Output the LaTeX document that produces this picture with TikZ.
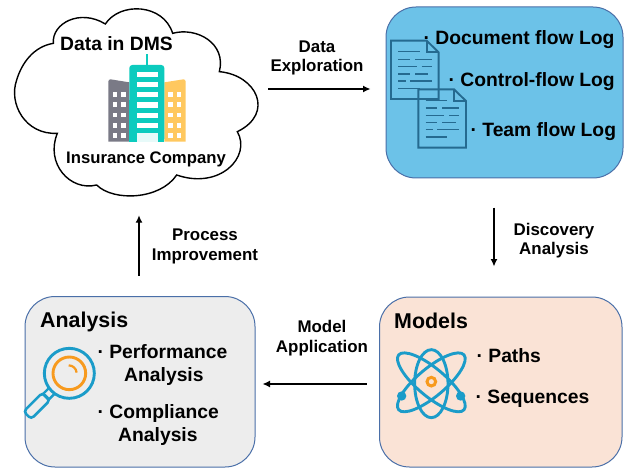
\documentclass[tikz,border=0pt]{standalone}
\usepackage{fontspec}
\setmainfont{Liberation Sans}
\usetikzlibrary{arrows.meta}
\definecolor{bluefill}{HTML}{6CC2E8}
\definecolor{edgeblue}{HTML}{4A6FA8}
\definecolor{peach}{HTML}{FAE3D6}
\definecolor{greyfill}{HTML}{EDEDED}
\definecolor{docline}{HTML}{256A90}
\definecolor{iconblue}{HTML}{1B9CC9}
\definecolor{iconorange}{HTML}{F79A1E}
\definecolor{bteal}{HTML}{0CCBBE}
\definecolor{bgrey}{HTML}{7A7A86}
\definecolor{byellow}{HTML}{FFC85F}
\tikzset{
  panel/.style={draw=edgeblue,line width=1pt,rounded corners=30pt,inner sep=0pt},
  txt/.style={anchor=base west,inner sep=0pt,font=\fontsize{19.3}{19}\selectfont\bfseries},
  ttl/.style={txt,font=\fontsize{21.4}{21}\selectfont\bfseries},
  lab/.style={anchor=base,inner sep=0pt,font=\fontsize{16.9}{17}\selectfont\bfseries},
  flow/.style={draw=black,line width=1.4pt,-{Latex[length=7.5pt,width=7pt]}},
  doc/.style={draw=docline,line width=1.9pt},
  docrule/.style={draw=docline,line width=1.6pt},
  orbit/.style={draw=iconblue,line width=2.9pt},
}
\begin{document}
\begin{tikzpicture}[x=1pt,y=-1pt]
\useasboundingbox (0,0) rectangle (624,468);
% panels
\node[panel,fill=bluefill,minimum width=237pt,minimum height=171pt] (logs) at (504.5,92.5) {};
\node[panel,fill=peach,minimum width=242.5pt,minimum height=170pt] (models) at (500.75,382) {};
\node[panel,fill=greyfill,minimum width=230pt,minimum height=170.5pt] (analysis) at (140,381.75) {};
\node[inner sep=0pt,minimum width=247pt,minimum height=188pt] (cloud) at (136.5,101) {};
% cloud outline
\begin{scope}[scale=1/3]
\draw[black,line width=1.4pt,fill=white] (160,130)
  .. controls (155,70) and (240,25) .. (316,72)
  .. controls (360,5) and (490,10) .. (518,100)
  .. controls (590,80) and (680,130) .. (658,215)
  .. controls (770,225) and (825,340) .. (712,395)
  .. controls (755,470) and (660,570) .. (530,525)
  .. controls (480,600) and (340,605) .. (290,555)
  .. controls (210,575) and (135,490) .. (172,400)
  .. controls (75,405) and (25,310) .. (50,240)
  .. controls (65,190) and (100,140) .. (160,130) -- cycle;
% building
\fill[bgrey] (325,245) .. controls (325,240) and (328,238) .. (332,238) -- (388,247) -- (388,425) -- (325,425) -- cycle;
\fill[byellow] (557,245) .. controls (557,240) and (554,238) .. (550,238) -- (493,247) -- (493,425) -- (557,425) -- cycle;
\draw[bteal,line width=1.2pt] (441,163) -- (441,197);
\fill[bteal,rounded corners=3pt] (388,425) -- (388,195) -- (493,195) -- (493,425) -- cycle;
\fill[bteal] (388,300) rectangle (493,425);
\foreach \y in {215,245,276,307,338,368}{\fill[white] (410,\y) rectangle (473,\y+16);}
\fill[white!90!bteal] (410,400) rectangle (473,425);
\foreach \y in {277,307,338,369,400}{
  \fill[white] (338,\y) rectangle (352,\y+14);
  \fill[white] (363,\y) rectangle (378,\y+14);
  \fill[white] (505,\y) rectangle (518,\y+14);
  \fill[white] (530,\y) rectangle (544,\y+14);
}
\end{scope}
\node[txt] (t1) at (60,51) {Data in DMS};
\node[txt,font=\fontsize{16.7}{17}\selectfont\bfseries] (t2) at (66,164) {Insurance Company};
% documents
\begin{scope}[shift={(380,0)},scale=1/3]
\foreach \dx/\dy in {0/0,82/146}{
\begin{scope}[shift={(\dx,\dy)}]
\draw[doc] (33,122) -- (140,122) -- (176,157) -- (176,297) -- (33,297) -- cycle;
\draw[doc] (140,122) -- (140,157) -- (176,157);
\draw[docrule] (55,155) -- (120,155) (55,178) -- (90,178) (105,178) -- (155,178)
  (55,200) -- (110,200) (125,200) -- (155,200) (55,222) -- (90,222) (105,222) -- (145,222)
  (55,243) -- (78,243) (90,243) -- (155,243) (55,265) -- (120,265);
\end{scope}}
\end{scope}
\node[txt] (l1) at (423.4,44.5) {· Document flow Log};
\node[txt] (l2) at (448.4,87) {· Control-flow Log};
\node[txt] (l3) at (470.4,137) {· Team flow Log};
% atom
\begin{scope}[shift={(370,290)},scale=1/3]
\draw[orbit] (184,281) ellipse [x radius=50,y radius=102];
\draw[orbit,rotate around={50:(184,277)}] (184,277) ellipse [x radius=42,y radius=128];
\draw[orbit,rotate around={-50:(184,277)}] (184,277) ellipse [x radius=42,y radius=128];
\fill[iconblue] (95,318) circle [radius=14];
\fill[iconblue] (272,318) circle [radius=14];
\draw[iconorange,line width=3pt] (184,275) circle [radius=13];
\end{scope}
\node[ttl] (m0) at (394,328) {Models};
\node[txt] (m1) at (476.4,362) {· Paths};
\node[txt] (m2) at (475.4,403) {· Sequences};
% magnifier
\begin{scope}[shift={(10,290)},scale=1/3]
\draw[iconblue,line width=2.4pt,rotate around={-45:(178,250)}]
  (166,322) rectangle (190,350);
\draw[iconblue,line width=2.6pt,rounded corners=3.5pt,rotate around={-45:(178,250)}]
  (162,348) rectangle (194,428);
\draw[iconblue,line width=2.9pt,fill=greyfill] (178,250) circle [radius=75];
\draw[iconorange,line width=2.9pt] (178,250) circle [radius=49];
\draw[iconorange,line width=2.2pt] (176,226) arc [start angle=-90,end angle=-5,radius=24];
\end{scope}
\node[ttl] (a0) at (40,327) {Analysis};
\node[txt] (a1) at (97.4,358) {· Performance};
\node[txt] (a2) at (124,381) {Analysis};
\node[txt] (a3) at (97.4,418) {· Compliance};
\node[txt] (a4) at (118,441) {Analysis};
% connector labels
\node[lab] (e1) at (317,53) {Data};
\node[lab] (e2) at (317,72) {Exploration};
\node[lab] (d1) at (554,235) {Discovery};
\node[lab] (d2) at (554,254) {Analysis};
\node[lab] (c1) at (322,332) {Model};
\node[lab] (c2) at (322,352) {Application};
\node[lab] (p1) at (205,240) {Process};
\node[lab] (p2) at (205,260) {Improvement};
% connectors
\draw[flow,shorten <=8pt,shorten >=15pt] ([yshift=12pt]cloud.east) -- ([yshift=3.5pt]logs.west);
\draw[flow,shorten <=29pt,shorten >=30pt] ([xshift=-10.5pt]logs.south) -- ([xshift=-6.75pt]models.north);
\draw[flow,shorten <=12.5pt,shorten >=7pt] ([yshift=-2pt]models.west) -- ([yshift=-2.25pt]analysis.east);
\draw[flow,shorten <=20.5pt,shorten >=20pt] ([xshift=-1pt]analysis.north) -- ([xshift=2.5pt]cloud.south);
\end{tikzpicture}
\end{document}
